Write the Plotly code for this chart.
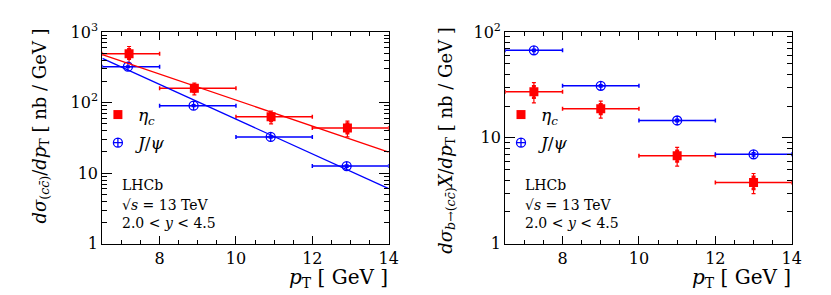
import plotly.graph_objects as go

# ---------------- data ----------------
bin_lo = [6.5, 8.0, 10.0, 12.0]
bin_hi = [8.0, 10.0, 12.0, 14.0]

# left panel: prompt production
pt_eta_L = [7.20, 8.91, 10.92, 12.92]
eta_L = [493, 159, 63, 43.7]
eta_L_tot = [130, 30, 13, 11]
eta_L_stat = [75, 18, 8, 7]

pt_jpsi_L = [7.17, 8.89, 10.91, 12.90]
jpsi_L = [323, 90.5, 32.6, 12.6]
jpsi_L_err = [8, 2.5, 1.0, 0.5]

fit_pt = [6.5, 14.0]
eta_fit = [479, 19.9]
jpsi_fit = [424, 6.04]

# right panel: from b decays
pt_eta_R = [7.25, 9.0, 11.0, 13.0]
eta_R = [27.3, 18.8, 6.77, 3.79]
eta_R_tot = [5.9, 3.4, 1.35, 0.82]
eta_R_stat = [3.4, 2.0, 0.8, 0.5]

pt_jpsi_R = [7.25, 9.0, 11.0, 13.0]
jpsi_R = [67.1, 31.0, 14.6, 7.0]
jpsi_R_err = [1.6, 0.8, 0.4, 0.25]

ytick_L = [1, 10, 100, 1000]
ytext_L = ["1", "10", "10<sup>2</sup>", "10<sup>3</sup>"]
ytick_R = [1, 10, 100]
ytext_R = ["1", "10", "10<sup>2</sup>"]
xticks = [8, 10, 12, 14]

RED = "#ff0000"
BLUE = "#0000ff"
FONT = "DejaVu Serif"

fig = go.Figure()


def xerr(pts):
    plus = [h - p for h, p in zip(bin_hi, pts)]
    minus = [p - l for l, p in zip(bin_lo, pts)]
    return dict(type="data", symmetric=False, array=plus, arrayminus=minus,
                thickness=1.5, width=2)


def add_panel(xa, ya, leg, pt_e, v_e, tot_e, stat_e, pt_j, v_j, err_j):
    fig.add_trace(go.Scatter(x=pt_e, y=v_e, mode="markers", marker=dict(size=0.1, color=RED),
                             error_y=dict(type="data", array=tot_e, color=RED, thickness=1.2, width=2),
                             xaxis=xa, yaxis=ya, showlegend=False, hoverinfo="skip"))
    fig.add_trace(go.Scatter(x=pt_e, y=v_e, mode="markers", name="<i>η<sub>c</sub></i>",
                             legendgroup=leg + "a",
                             marker=dict(symbol="square", size=9, color=RED),
                             error_x=dict(xerr(pt_e), color=RED),
                             error_y=dict(type="data", array=stat_e, color=RED, thickness=2.5, width=2),
                             xaxis=xa, yaxis=ya, legend=leg))
    fig.add_trace(go.Scatter(x=pt_j, y=v_j, mode="markers", name="<i>J</i>/<i>ψ</i>",
                             legendgroup=leg + "b",
                             marker=dict(symbol="circle-cross-open", size=9, color=BLUE,
                                         line=dict(width=1.3, color=BLUE)),
                             error_x=dict(xerr(pt_j), color=BLUE),
                             error_y=dict(type="data", array=err_j, color=BLUE, thickness=1.5, width=2),
                             xaxis=xa, yaxis=ya, legend=leg))


add_panel("x", "y", "legend", pt_eta_L, eta_L, eta_L_tot, eta_L_stat, pt_jpsi_L, jpsi_L, jpsi_L_err)
fig.add_trace(go.Scatter(x=fit_pt, y=eta_fit, mode="lines", line=dict(color=RED, width=1.3),
                         xaxis="x", yaxis="y", showlegend=False, hoverinfo="skip"))
fig.add_trace(go.Scatter(x=fit_pt, y=jpsi_fit, mode="lines", line=dict(color=BLUE, width=1.3),
                         xaxis="x", yaxis="y", showlegend=False, hoverinfo="skip"))
add_panel("x2", "y2", "legend2", pt_eta_R, eta_R, eta_R_tot, eta_R_stat, pt_jpsi_R, jpsi_R, jpsi_R_err)

W, H = 831, 295
yd = [1 - 242 / H, 1 - 14 / H]


def xaxis(dom):
    return dict(domain=dom, range=[6.5, 14], tickvals=xticks, ticks="inside", ticklen=8,
                tickcolor="black", showline=True, linecolor="black", linewidth=1.2, mirror="allticks",
                showgrid=False, zeroline=False, tickfont=dict(family=FONT, size=16, color="black"),
                minor=dict(dtick=0.5, ticks="inside", ticklen=4, tickcolor="black"))


def yaxis(anchor, lo, hi, tv, tt):
    minor_vals = [m * 10 ** e for e in range(0, 3) for m in range(2, 10)]
    return dict(domain=yd, anchor=anchor, type="log", range=[lo, hi], tickvals=tv, ticktext=tt,
                ticks="inside", ticklen=10, tickcolor="black", showline=True, linecolor="black",
                linewidth=1.2, mirror="allticks", showgrid=False, zeroline=False,
                tickfont=dict(family=FONT, size=16, color="black"),
                minor=dict(tickvals=minor_vals, ticks="inside", ticklen=5, tickcolor="black"))


leg_common = dict(font=dict(family=FONT, size=17, color="black"), bgcolor="rgba(0,0,0,0)",
                  itemwidth=30, tracegroupgap=3, xanchor="left", yanchor="top")

fig.update_layout(
    width=W, height=H, margin=dict(l=0, r=0, t=0, b=0),
    paper_bgcolor="white", plot_bgcolor="white",
    font=dict(family=FONT, color="black"),
    xaxis=xaxis([95.5 / W, 385.3 / W]),
    yaxis=yaxis("x", 0, 3, ytick_L, ytext_L),
    xaxis2=dict(xaxis([503.3 / W, 793.3 / W]), anchor="y2"),
    yaxis2=yaxis("x2", 0, 2, ytick_R, ytext_R),
    legend=dict(leg_common, x=91 / W, y=1 - 84 / H),
    legend2=dict(leg_common, x=499 / W, y=1 - 84 / H),
    showlegend=True,
)

ann = []
texts = ["LHCb", "√<i>s</i> = 13 TeV", "2.0 &lt; <i>y</i> &lt; 4.5"]
ys = [179, 200, 220]
for xpx in [113, 521]:
    for t, ypx in zip(texts, ys):
        ann.append(dict(text=t, xref="paper", yref="paper", x=xpx / W, y=1 - ypx / H,
                        xanchor="left", yanchor="middle", showarrow=False,
                        font=dict(family=FONT, size=14, color="black")))
for xr in [387, 795]:
    ann.append(dict(text="<i>p</i><sub>T</sub> [ GeV ]", xref="paper", yref="paper", x=xr / W,
                    y=1 - 279 / H, xanchor="right", yanchor="middle", showarrow=False,
                    font=dict(family=FONT, size=20, color="black")))
ann.append(dict(text="<i>dσ</i><sub>(<i>c</i><i>c̄</i>)</sub>/<i>dp</i><sub>T</sub> [ nb / GeV ]",
                xref="paper", yref="paper", x=33 / W, y=1 - 8 / H, xanchor="center", yanchor="top",
                textangle=-90, showarrow=False, font=dict(family=FONT, size=18, color="black")))
ann.append(dict(text="<i>dσ</i><sub><i>b</i>→(<i>c</i><i>c̄</i>)</sub><i>X</i>/<i>dp</i><sub>T</sub> [ nb / GeV ]",
                xref="paper", yref="paper", x=444 / W, y=1 - 6 / H, xanchor="center", yanchor="top",
                textangle=-90, showarrow=False, font=dict(family=FONT, size=18, color="black")))
fig.update_layout(annotations=ann)

fig.write_html("out.html")
